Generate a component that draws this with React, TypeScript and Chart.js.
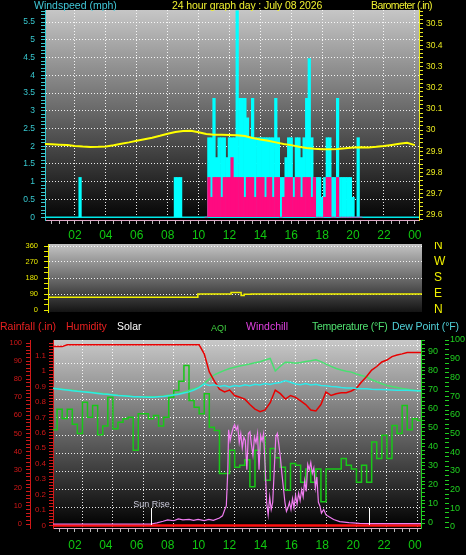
import React, { useEffect, useRef } from 'react';
import { Chart, registerables } from 'chart.js';

Chart.register(...registerables);

const FONT = "'Liberation Sans', Arial, Helvetica, sans-serif";
Chart.defaults.font.family = FONT;

// ---------------- data ----------------
const titleText = '24 hour graph day : July 08 2026';
const timeLabelHours = [2, 4, 6, 8, 10, 12, 14, 16, 18, 20, 22, 24];
const timeLabels = ['02', '04', '06', '08', '10', '12', '14', '16', '18', '20', '22', '00'];

// Barometer (inHg), every 30 minutes from 00:00
const baroStepHours = 0.5;
const baroInHg = [
  29.935, 29.933, 29.931, 29.929, 29.925, 29.922, 29.92, 29.921, 29.923, 29.928,
  29.935, 29.942, 29.95, 29.957, 29.964, 29.973, 29.983, 29.991, 29.996, 29.997,
  29.99, 29.981, 29.978, 29.978, 29.977, 29.976, 29.972, 29.963, 29.956, 29.95,
  29.942, 29.934, 29.929, 29.921, 29.915, 29.912, 29.91, 29.909, 29.911, 29.914,
  29.918, 29.919, 29.918, 29.921, 29.925, 29.93, 29.935, 29.94, 29.929,
];

// Wind (mph): isolated early gusts, then 10-minute samples from 10:30
const gustEarlyHours = [2.33, 8.5, 8.67, 8.84];
const gustEarlyMph = [1.12, 1.12, 1.12, 1.12];
const activeStartHour = 10.5;
const activeStepHours = 1 / 6;
const windGustMph = [
  0, 2.24, 2.24, 3.35, 1.68, 2.24, 2.24, 2.24, 1.68, 2.24,
  2.24, 2.24, 5.82, 3.35, 3.35, 3.35, 2.8, 2.24, 3.35, 2.24,
  2.24, 2.24, 2.24, 2.24, 2.24, 2.24, 2.24, 3.35, 2.24, 1.12,
  1.12, 1.68, 2.24, 2.24, 1.12, 2.24, 2.24, 1.68, 2.24, 3.35,
  4.47, 2.24, 1.12, 1.12, 1.12, 0.56, 1.12, 2.24, 2.24, 1.12,
  1.12, 3.35, 1.12, 1.12, 1.12, 1.12, 1.12, 0.56, 0, 2.24, 0,
];
const windAvgMph = [
  0, 1.12, 0.56, 1.12, 1.12, 1.12, 0.56, 1.12, 1.12, 1.12,
  1.68, 1.12, 1.12, 1.12, 1.12, 0.56, 1.12, 1.12, 1.12, 0.56,
  1.12, 1.12, 1.12, 0.56, 1.12, 1.12, 0.56, 1.12, 1.12, 0,
  0.56, 1.12, 1.12, 1.12, 0.56, 1.12, 1.12, 0.56, 1.12, 1.12,
  1.12, 0.56, 1.12, 0, 0, 0, 0.56, 1.12, 1.12, 0,
  0, 1.12, 0, 0, 0, 0, 0, 0, 0, 0, 0,
];
const calmHours = [0, 24.3];
const calmMph = [0, 0];

// Wind direction (degrees)
const dirHours = [0, 9.95, 12.1, 12.75, 12.95, 13.4, 24.46];
const dirDeg = [72, 90, 98, 82, 88, 90, 90];
const compassDeg = [0, 90, 180, 270, 360];
const compassLabels = ['N', 'E', 'S', 'W', 'N'];

// Bottom panel, samples every 20 minutes from 00:00
const sensorStepHours = 1 / 3;
const humidityPct = [
  98, 98, 98, 99, 99, 99, 99, 99, 99, 99,
  99, 99, 99, 99, 99, 99, 99, 99, 99, 99,
  99, 99, 99, 99, 99, 99, 99, 99, 99, 99,
  94, 84, 79, 74.5, 73, 74, 71, 70, 69, 66,
  63.5, 62, 63, 67, 74, 72, 69, 71, 70, 68,
  66, 63, 62.5, 66, 73, 71, 72, 72.5, 72.5, 73.5,
  75, 78.5, 81.5, 85, 87, 89.5, 90.6, 92.5, 93.4, 94,
  94.8, 94.8, 94.8, 94.8,
];
const temperatureF = [
  70.9, 70.7, 70.4, 70.1, 69.8, 69.5, 69.2, 69.0, 68.7, 68.4,
  68.1, 67.8, 67.5, 67.2, 67.0, 66.8, 66.6, 66.5, 66.4, 66.4,
  66.5, 66.6, 66.8, 67.2, 67.6, 68.2, 69.0, 69.8, 70.6, 71.6,
  73.4, 75.8, 78.0, 79.2, 80.3, 81.3, 82.0, 82.6, 83.1, 83.7,
  84.3, 84.9, 85.8, 86.6, 80.0, 82.5, 84.6, 84.4, 84.1, 84.5,
  85.0, 85.4, 85.9, 84.9, 83.6, 82.4, 81.3, 80.5, 79.9, 79.4,
  78.4, 77.6, 76.8, 75.4, 74.3, 73.3, 72.4, 71.8, 71.3, 70.8,
  70.4, 70.0, 69.6, 69.4,
];
const dewPointF = [
  70.9, 70.6, 70.3, 70.0, 69.6, 69.3, 69.1, 68.8, 68.5, 68.2,
  67.9, 67.7, 67.4, 67.1, 66.9, 66.7, 66.5, 66.4, 66.3, 66.2,
  66.2, 66.4, 66.6, 66.9, 67.3, 67.8, 68.4, 69.0, 70.0, 71.2,
  73.2, 72.4, 72.8, 71.9, 72.3, 71.6, 72.4, 72.0, 72.8, 72.2,
  73.0, 72.6, 73.4, 72.9, 73.6, 73.9, 75.0, 74.1, 73.2, 72.8,
  73.4, 72.6, 73.0, 72.4, 72.2, 71.8, 71.7, 71.3, 71.0, 71.0,
  70.8, 70.7, 70.6, 70.4, 70.3, 70.2, 70.1, 70.0, 69.9, 69.8,
  69.8, 69.7, 69.6, 69.6,
];
const aqiValues = [
  52, 63, 58, 63, 55, 50, 66.7, 58.7, 65, 49.4,
  54, 69.4, 52.5, 56, 57.9, 58.7, 41, 60.5, 60.5, 57.9,
  59.6, 54, 58.7, 69.4, 73, 78, 86.3, 67.6, 64, 60.5,
  71.2, 53.4, 51.6, 28.6, 28.6, 41, 32, 33, 36, 21.5,
  41, 48, 25, 42, 37, 32, 19.7, 34, 33, 24,
  31, 24, 31, 13.5, 31, 31, 31, 36.6, 33, 31,
  24, 33, 24, 45.4, 36.6, 49, 36.6, 54.3, 50, 65,
  52, 57.9, 57, 57,
];
const solarHours = [
  0, 6.5, 6.9, 7.3, 7.6, 8.0, 8.3, 8.6, 9.0, 9.3,
  9.6, 10.0, 10.3, 10.6, 11.0, 11.2, 11.35, 11.45, 11.55, 11.6,
  11.7, 11.8, 11.9, 12.0, 12.1, 12.2, 12.3, 12.4, 12.5, 12.6,
  12.7, 12.8, 12.9, 13.0, 13.1, 13.2, 13.3, 13.4, 13.5, 13.6,
  13.7, 13.8, 13.9, 14.0, 14.1, 14.2, 14.3, 14.4, 14.5, 14.6,
  14.7, 14.8, 14.9, 15.0, 15.1, 15.2, 15.3, 15.4, 15.5, 15.6,
  15.7, 15.8, 15.9, 16.0, 16.1, 16.2, 16.3, 16.4, 16.5, 16.6,
  16.7, 16.8, 16.9, 17.0, 17.1, 17.2, 17.3, 17.4, 17.5, 17.6,
  17.7, 17.85, 18.0, 18.2, 18.5, 18.9, 19.5, 20.2, 21.0, 24.3,
];
const solarValues = [
  0, 0, 0.6, 1.5, 2.3, 1.8, 2.8, 2.3, 2.6, 2.0,
  2.6, 1.9, 2.5, 2.0, 3.3, 4.5, 8, 10, 30, 52,
  46, 50, 53, 55, 52, 54, 45, 50, 42, 48,
  46, 30, 50, 51, 44, 38, 48, 45, 50, 30,
  49, 46, 50, 32, 12, 5, 15, 8, 12, 30,
  48, 50, 44, 37, 28, 20, 12, 7, 9, 12,
  8, 14, 9, 16, 11, 17, 13, 19, 15, 24,
  18, 33, 30, 34, 28, 31, 20, 26, 12, 10,
  6, 8, 5, 4, 2.5, 1.3, 0.8, 0.4, 0.2, 0.2,
];
const rainHours = [0, 24.3];
const rainIn = [0, 0];
const sunEventHours = [6.48, 20.85];
const sunEventLabels = ['Sun Rise', ''];

// ---------------- helpers ----------------
const GRID = 'rgba(255,255,255,0.9)';
const spaced = (from: number, to: number, step: number) => {
  const n = Math.round((to - from) / step);
  return Array.from({ length: n + 1 }, (_, i) => +(from + i * step).toFixed(4));
};
const onStep = (v: number, step: number) => Math.abs(v / step - Math.round(v / step)) < 1e-6;
const tickList = (from: number, to: number, step: number) => (s: any) => {
  s.ticks = spaced(from, to, step).map((value) => ({ value }));
};
const fixedTicks = (vals: number[]) => (s: any) => {
  s.ticks = vals.map((value) => ({ value }));
};
const boxSize = (size: number) => (s: any) => {
  if (s.isHorizontal()) s.height = size;
  else s.width = size;
  s.paddingTop = 0;
  s.paddingBottom = 0;
  s.paddingLeft = 0;
  s.paddingRight = 0;
};
const dotted = (pred: (v: number) => boolean) => (c: any) =>
  c.tick && pred(c.tick.value) ? GRID : 'transparent';
const timeLabel = (v: number) => {
  const k = timeLabelHours.findIndex((h) => Math.abs(h - v) < 1e-6);
  return k >= 0 ? timeLabels[k] : '';
};
const stepLabel = (step: number) => (v: number) => (onStep(v, step) ? String(+v.toFixed(2)) : '');
const pts = (xs: number[], ys: number[]) => xs.map((x, i) => ({ x, y: ys[i] }));
const seriesHours = (arr: number[], start: number, step: number) => arr.map((_, i) => start + i * step);

const makeBg = (top: string, bottom: string) => ({
  id: 'panelBg',
  beforeDraw(chart: any) {
    const { ctx, chartArea: a } = chart;
    if (!a) return;
    const g = ctx.createLinearGradient(0, a.top, 0, a.bottom);
    g.addColorStop(0, top);
    g.addColorStop(1, bottom);
    ctx.save();
    ctx.fillStyle = g;
    ctx.fillRect(a.left, a.top, a.right - a.left, a.bottom - a.top);
    ctx.restore();
  },
});

const sunMarks = {
  id: 'sunMarks',
  afterDatasetsDraw(chart: any) {
    const { ctx, chartArea: a, scales } = chart;
    const x = scales.x;
    ctx.save();
    sunEventHours.forEach((h, i) => {
      const px = Math.round(x.getPixelForValue(h)) + 0.5;
      ctx.strokeStyle = '#ffffff';
      ctx.lineWidth = 1;
      ctx.beginPath();
      ctx.moveTo(px, a.bottom - 20);
      ctx.lineTo(px, a.bottom - 3);
      ctx.stroke();
      if (sunEventLabels[i]) {
        ctx.font = `9px ${FONT}`;
        ctx.textAlign = 'center';
        ctx.textBaseline = 'alphabetic';
        ctx.fillStyle = '#202020';
        ctx.fillText(sunEventLabels[i], px + 1, a.bottom - 20);
        ctx.fillStyle = '#c8c8d8';
        ctx.fillText(sunEventLabels[i], px, a.bottom - 21);
      }
    });
    ctx.restore();
  },
};

const common = {
  animation: false,
  responsive: false,
  maintainAspectRatio: false,
  events: [],
  plugins: { legend: { display: false }, tooltip: { enabled: false }, title: { display: false } },
};

// ---------------- configs ----------------
function topConfig(): any {
  const activeHours = seriesHours(windAvgMph, activeStartHour, activeStepHours);
  const baroHours = seriesHours(baroInHg, 0, baroStepHours);
  const windCyan = '#38c8d0';
  const baroYellow = '#e8e820';
  return {
    type: 'bar',
    data: {
      datasets: [
        { type: 'line', label: 'Barometer', yAxisID: 'baro', data: pts(baroHours, baroInHg), borderColor: '#ffff00', borderWidth: 2, pointRadius: 0, tension: 0 },
        { type: 'bar', label: 'Wind speed', yAxisID: 'wind', data: pts(activeHours, windAvgMph), backgroundColor: '#ff0a80', grouped: false, barPercentage: 1, categoryPercentage: 1, borderWidth: 0 },
        { type: 'bar', label: 'Gust', yAxisID: 'wind', data: [...pts(gustEarlyHours, gustEarlyMph), ...pts(activeHours, windGustMph)], backgroundColor: '#00ffff', grouped: false, barPercentage: 1, categoryPercentage: 1, borderWidth: 0 },
        { type: 'line', label: 'Calm', yAxisID: 'wind', data: pts(calmHours, calmMph), borderColor: '#00e8e8', borderWidth: 1.5, pointRadius: 0 },
      ],
    },
    options: {
      ...common,
      layout: { padding: { top: 10, left: 0, right: 0, bottom: 0 } },
      scales: {
        x: {
          type: 'linear', position: 'bottom', min: 0.06, max: 24.27, offset: false,
          afterFit: boxSize(22), afterBuildTicks: tickList(0.5, 24, 0.5),
          ticks: { autoSkip: false, maxRotation: 0, padding: 4, color: '#10c810', font: { size: 12 }, callback: timeLabel },
          grid: { offset: false, color: dotted((v) => onStep(v, 2)), tickColor: '#b8b8b8', tickLength: 4, tickBorderDash: [] },
          border: { color: '#e0a8c8', dash: [1, 2] },
        },
        wind: {
          type: 'linear', position: 'left', min: -0.08, max: 5.84,
          afterFit: boxSize(45), afterBuildTicks: tickList(0, 5.8, 0.1),
          ticks: { autoSkip: false, padding: 6, color: windCyan, font: { size: 8.5 }, callback: stepLabel(0.5) },
          grid: { color: dotted((v) => onStep(v, 0.5) && v > 0), tickColor: windCyan, tickLength: 4, tickBorderDash: [] },
          border: { color: windCyan, dash: [1, 2] },
        },
        baro: {
          type: 'linear', position: 'right', min: 29.576, max: 30.566,
          afterFit: boxSize(47), afterBuildTicks: tickList(29.58, 30.56, 0.02),
          ticks: { autoSkip: false, padding: 3, color: baroYellow, font: { size: 8.5 }, callback: stepLabel(0.1) },
          grid: { drawOnChartArea: false, tickColor: baroYellow, tickLength: 4, tickBorderDash: [] },
          border: { color: baroYellow },
        },
      },
    },
    plugins: [makeBg('#c6c6c6', '#030303')],
  };
}

function midConfig(): any {
  const yellow = '#e8e800';
  return {
    type: 'line',
    data: {
      datasets: [
        { label: 'Wind direction', yAxisID: 'dir', data: pts(dirHours, dirDeg), borderColor: '#f0f000', borderWidth: 1.5, pointRadius: 0, stepped: true },
      ],
    },
    options: {
      ...common,
      layout: { padding: { top: 2, left: 0, right: 0, bottom: 5 } },
      scales: {
        x: { type: 'linear', display: false, min: 0.25, max: 24.46, offset: false },
        dir: {
          type: 'linear', position: 'left', min: -11.25, max: 371.25,
          afterFit: boxSize(48), afterBuildTicks: tickList(0, 360, 30),
          ticks: { autoSkip: false, padding: 6, color: yellow, font: { size: 7.5 }, callback: stepLabel(90) },
          grid: { color: dotted((v) => onStep(v, 90) && v > 0), tickColor: yellow, tickLength: 4, tickBorderDash: [] },
          border: { color: yellow, dash: [1, 2] },
        },
        dirR: {
          type: 'linear', position: 'right', min: -11.25, max: 371.25,
          afterFit: boxSize(44), afterBuildTicks: fixedTicks(compassDeg),
          ticks: {
            autoSkip: false, padding: 12, color: '#f0f000', font: { size: 12 },
            callback: (v: number) => compassLabels[compassDeg.indexOf(v)] || '',
          },
          grid: { display: false, drawTicks: false },
          border: { display: false },
        },
      },
    },
    plugins: [makeBg('#c4c4c4', '#141414')],
  };
}

function botConfig(): any {
  const hours = seriesHours(humidityPct, 0, sensorStepHours);
  const red = '#d01818';
  const green = '#20d020';
  return {
    type: 'line',
    data: {
      datasets: [
        { label: 'Windchill', yAxisID: 'hum', data: pts(solarHours, solarValues), borderColor: '#f07cf0', borderWidth: 1.2, pointRadius: 0, tension: 0 },
        { label: 'Rainfall', yAxisID: 'rain', data: pts(rainHours, rainIn), borderColor: '#ff1010', borderWidth: 2.5, pointRadius: 0 },
        { label: 'Dew Point', yAxisID: 'temp', data: pts(hours, dewPointF), borderColor: '#30e8e8', borderWidth: 1.5, pointRadius: 0, tension: 0 },
        { label: 'Humidity', yAxisID: 'hum', data: pts(hours, humidityPct), borderColor: '#e80000', borderWidth: 1.5, pointRadius: 0, tension: 0 },
        { label: 'Temperature', yAxisID: 'temp', data: pts(hours, temperatureF), borderColor: '#48e070', borderWidth: 1.5, pointRadius: 0, tension: 0 },
        { label: 'AQI', yAxisID: 'aqi', data: pts(hours, aqiValues), borderColor: '#18c818', borderWidth: 1.5, pointRadius: 0, stepped: true },
      ],
    },
    options: {
      ...common,
      layout: { padding: { top: 23, left: 0, right: 0, bottom: 0 } },
      scales: {
        x: {
          type: 'linear', position: 'bottom', min: 0.066, max: 24.24, offset: false,
          afterFit: boxSize(5), afterBuildTicks: tickList(0.5, 24, 0.5),
          ticks: { display: false, autoSkip: false },
          grid: { offset: false, color: dotted((v) => onStep(v, 2)), tickColor: '#b8b8b8', tickLength: 4, tickBorderDash: [] },
          border: { color: '#e0a8c8', dash: [1, 2] },
        },
        xl: {
          type: 'linear', position: 'bottom', min: 0.58, max: 24.39, offset: false,
          afterFit: boxSize(22), afterBuildTicks: fixedTicks(timeLabelHours),
          ticks: { autoSkip: false, maxRotation: 0, padding: 5, color: '#10c810', font: { size: 12 }, callback: timeLabel },
          grid: { display: false, drawTicks: false },
          border: { display: false },
        },
        yg: {
          type: 'linear', position: 'left', weight: -5, min: -0.168, max: 10.335,
          afterFit: boxSize(0), afterBuildTicks: tickList(1, 10, 1),
          ticks: { display: false },
          grid: { color: GRID, drawTicks: false },
          border: { display: false, dash: [1, 2] },
        },
        rain: {
          type: 'linear', position: 'left', weight: 0, min: -0.016, max: 1.2,
          afterFit: boxSize(23), afterBuildTicks: tickList(0, 1.18, 0.02),
          ticks: { autoSkip: false, padding: 3, color: red, font: { size: 8 }, callback: stepLabel(0.1) },
          grid: { drawOnChartArea: false, tickColor: red, tickLength: 4, tickBorderDash: [] },
          border: { color: red },
        },
        hum: {
          type: 'linear', position: 'left', weight: 1, min: -2.21, max: 101.66,
          afterFit: boxSize(30), afterBuildTicks: tickList(0, 100, 2),
          ticks: { autoSkip: false, padding: 4, color: red, font: { size: 7.5 }, callback: stepLabel(10) },
          grid: { drawOnChartArea: false, tickColor: red, tickLength: 4, tickBorderDash: [] },
          border: { color: red },
        },
        temp: {
          type: 'linear', position: 'right', weight: 0, min: -2.63, max: 96.3,
          afterFit: boxSize(24), afterBuildTicks: tickList(0, 96, 2),
          ticks: { autoSkip: false, padding: 3, color: green, font: { size: 9 }, callback: stepLabel(10) },
          grid: { drawOnChartArea: false, tickColor: green, tickLength: 4, tickBorderDash: [] },
          border: { color: green },
        },
        aqi: {
          type: 'linear', position: 'right', weight: 1, min: -0.53, max: 100,
          afterFit: boxSize(21), afterBuildTicks: tickList(0, 100, 2.5),
          ticks: { autoSkip: false, padding: 1, color: green, font: { size: 9 }, callback: stepLabel(10) },
          grid: { drawOnChartArea: false, tickColor: green, tickLength: 4, tickBorderDash: [] },
          border: { display: false },
        },
      },
    },
    plugins: [makeBg('#c8c8c8', '#000000'), sunMarks],
  };
}

// ---------------- texts ----------------
type TextItem = { text: string; left: number; top: number; color: string; size: number; spacing?: number };
const headerTexts: TextItem[] = [
  { text: 'Windspeed (mph)', left: 34, top: -1, color: '#40c8d8', size: 10.5 },
  { text: titleText, left: 172, top: -1, color: '#f0f030', size: 10.5, spacing: -0.1 },
  { text: 'Barometer (.in)', left: 371, top: -1, color: '#f0f030', size: 10.5, spacing: -0.6 },
];
const legendTexts: TextItem[] = [
  { text: 'Rainfall (.in)', left: 0, top: 319.5, color: '#e82020', size: 10.5 },
  { text: 'Humidity', left: 66, top: 319.5, color: '#e82020', size: 10.5 },
  { text: 'Solar', left: 117, top: 319.5, color: '#ffffff', size: 10.5 },
  { text: 'AQI', left: 211, top: 321.5, color: '#40d040', size: 9 },
  { text: 'Windchill', left: 246, top: 319.5, color: '#e040e0', size: 10.5 },
  { text: 'Temperature (°F)', left: 312, top: 319.5, color: '#50e070', size: 10.5, spacing: -0.25 },
  { text: 'Dew Point (°F)', left: 392, top: 319.5, color: '#50d0d8', size: 10.5, spacing: -0.1 },
];

function Label({ t }: { t: TextItem }) {
  return (
    <div
      style={{
        position: 'absolute', left: t.left, top: t.top, color: t.color,
        fontFamily: FONT, fontSize: t.size, lineHeight: '12px', whiteSpace: 'nowrap',
        letterSpacing: t.spacing ? `${t.spacing}px` : undefined,
      }}
    >
      {t.text}
    </div>
  );
}

export default function App() {
  const topRef = useRef<HTMLCanvasElement>(null);
  const midRef = useRef<HTMLCanvasElement>(null);
  const botRef = useRef<HTMLCanvasElement>(null);

  useEffect(() => {
    document.body.style.margin = '0';
    document.body.style.background = '#000';
    const charts: Chart[] = [];
    if (topRef.current) charts.push(new Chart(topRef.current, topConfig()));
    if (midRef.current) charts.push(new Chart(midRef.current, midConfig()));
    if (botRef.current) charts.push(new Chart(botRef.current, botConfig()));
    return () => charts.forEach((c) => c.destroy());
  }, []);

  return (
    <div style={{ position: 'relative', width: 466, height: 555, background: '#000', overflow: 'hidden' }}>
      <canvas ref={topRef} width={466} height={242} style={{ position: 'absolute', left: 0, top: 0, width: 466, height: 242 }} />
      <canvas ref={midRef} width={466} height={75} style={{ position: 'absolute', left: 0, top: 242, width: 466, height: 75 }} />
      <canvas ref={botRef} width={466} height={238} style={{ position: 'absolute', left: 0, top: 317, width: 466, height: 238 }} />
      {headerTexts.map((t) => <Label key={t.text} t={t} />)}
      {legendTexts.map((t) => <Label key={t.text} t={t} />)}
    </div>
  );
}
